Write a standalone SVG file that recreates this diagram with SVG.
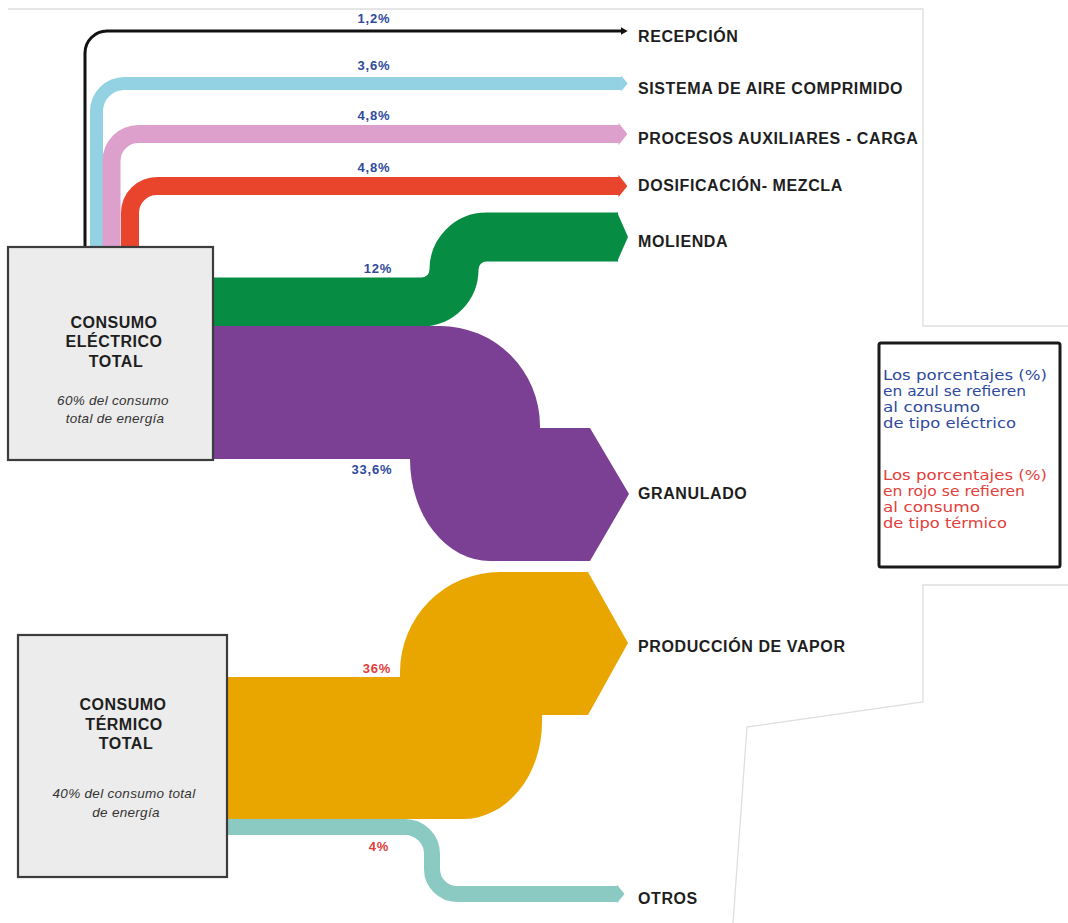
<svg xmlns="http://www.w3.org/2000/svg" width="1068" height="923" viewBox="0 0 1068 923">
<defs>
<style>
.edge{fill:none;stroke:#dedede;stroke-width:1.3}
.box{fill:#ececec;stroke:#3c3c3c;stroke-width:2.2}
.title{font-family:"Liberation Sans",Arial,sans-serif;font-weight:bold;font-size:16px;fill:#1e1e1e;letter-spacing:0.5px;text-anchor:middle}
.sub{font-family:"Liberation Sans",Arial,sans-serif;font-style:italic;font-size:13.5px;fill:#333;letter-spacing:0.3px;text-anchor:middle}
.lbl{font-family:"Liberation Sans",Arial,sans-serif;font-weight:bold;font-size:16px;fill:#1e1e1e;letter-spacing:0.6px}
.pct{font-family:"Liberation Sans",Arial,sans-serif;font-weight:bold;font-size:13px;letter-spacing:0.8px;text-anchor:middle}
.blue{fill:#2f4a9c}
.red{fill:#e2403a}
.band{fill:none;stroke-linecap:butt;stroke-linejoin:round}
.leg{font-family:"DejaVu Sans",sans-serif;font-size:13.7px}
.legbox{fill:#fff;stroke:#1a1a1a;stroke-width:3}
</style>
<marker id="tipK" viewBox="0 -4 7 8" refX="0.3" refY="0" markerWidth="7" markerHeight="8" markerUnits="userSpaceOnUse" orient="auto"><path d="M0,-4 L7,0 L0,4 Z" fill="#111"/></marker>
<marker id="tipB" viewBox="0 -0.62 0.5 1.24" refX="0.03" refY="0" markerWidth="0.5" markerHeight="1.24" markerUnits="strokeWidth" orient="auto"><path d="M0,-0.62 L0.5,0 L0,0.62 Z" fill="#93d2e3"/></marker>
<marker id="tipP" viewBox="0 -0.62 0.5 1.24" refX="0.03" refY="0" markerWidth="0.5" markerHeight="1.24" markerUnits="strokeWidth" orient="auto"><path d="M0,-0.62 L0.5,0 L0,0.62 Z" fill="#dd9fcb"/></marker>
<marker id="tipR" viewBox="0 -0.62 0.5 1.24" refX="0.03" refY="0" markerWidth="0.5" markerHeight="1.24" markerUnits="strokeWidth" orient="auto"><path d="M0,-0.62 L0.5,0 L0,0.62 Z" fill="#e8452c"/></marker>
<marker id="tipT" viewBox="0 -0.62 0.5 1.24" refX="0.03" refY="0" markerWidth="0.5" markerHeight="1.24" markerUnits="strokeWidth" orient="auto"><path d="M0,-0.62 L0.5,0 L0,0.62 Z" fill="#8bcac2"/></marker>
</defs>
<rect width="1068" height="923" fill="#fff"/>
<g id="background">
<path class="edge" d="M8,9 H923 V326 H1068"/>
<path class="edge" d="M1068,585 H923 V702 L747,727 L733,923"/>
</g>
<g id="connectors">
<path class="band" stroke="#111" stroke-width="3" d="M85,248 V53 A22 22 0 0 1 107 31 H621" marker-end="url(#tipK)"/>
<path class="band" stroke="#93d2e3" stroke-width="13" d="M96.5,248 V111.5 A28 28 0 0 1 124.5 83.5 H621.5" marker-end="url(#tipB)"/>
<path class="band" stroke="#dd9fcb" stroke-width="18" d="M111.5,248 V161 A27 27 0 0 1 138.5 134 H619" marker-end="url(#tipP)"/>
<path class="band" stroke="#e8452c" stroke-width="18" d="M130,248 V213 A27 27 0 0 1 157 186 H619" marker-end="url(#tipR)"/>
<path class="band" stroke="#078c44" stroke-width="49" d="M212,302 H421.5 A32.5 32.5 0 0 0 454 269.5 A32.5 32.5 0 0 1 486.5 237 H618"/>
<polygon fill="#078c44" points="617,212 628,237 617,262"/>
<path fill="#7b3f93" d="M212,326 H440 A100 100 0 0 1 540 426 V428 H590 L629 494 L590 561 H490 A80 102 0 0 1 410 459 H212 Z"/>
<path fill="#e9a600" d="M226,677 H400 V672 A100 100 0 0 1 500 572 H588 L628 643 L588 715 H542 V722 A79 97 0 0 1 463 819 H226 Z"/>
<path class="band" stroke="#8bcac2" stroke-width="16" d="M226,827 H405 A27 27 0 0 1 432 854 V869 A25 25 0 0 0 457 894 H617" marker-end="url(#tipT)"/>
<text class="pct blue" x="374" y="23">1,2%</text>
<text class="pct blue" x="374" y="70">3,6%</text>
<text class="pct blue" x="374" y="120">4,8%</text>
<text class="pct blue" x="374" y="172">4,8%</text>
<text class="pct blue" x="378" y="273">12%</text>
<text class="pct blue" x="372" y="474">33,6%</text>
<text class="pct red" x="377" y="673">36%</text>
<text class="pct red" x="379" y="851">4%</text>
</g>
<g id="node-electrico">
<rect class="box" x="8" y="247" width="205" height="213"/>
<text class="title" x="114" y="328">CONSUMO</text>
<text class="title" x="114" y="347">ELÉCTRICO</text>
<text class="title" x="116" y="367">TOTAL</text>
<text class="sub" x="113" y="405">60% del consumo</text>
<text class="sub" x="115" y="423">total de energía</text>
</g>
<g id="node-termico">
<rect class="box" x="18" y="635" width="209" height="242"/>
<text class="title" x="123" y="710">CONSUMO</text>
<text class="title" x="124" y="730">TÉRMICO</text>
<text class="title" x="126" y="749">TOTAL</text>
<text class="sub" x="124" y="798">40% del consumo total</text>
<text class="sub" x="126" y="817">de energía</text>
</g>
<g id="node-recepcion"><text class="lbl" x="638" y="42">RECEPCIÓN</text></g>
<g id="node-aire"><text class="lbl" x="638" y="94">SISTEMA DE AIRE COMPRIMIDO</text></g>
<g id="node-procesos"><text class="lbl" x="638" y="144">PROCESOS AUXILIARES - CARGA</text></g>
<g id="node-dosificacion"><text class="lbl" x="638" y="191">DOSIFICACIÓN- MEZCLA</text></g>
<g id="node-molienda"><text class="lbl" x="638" y="247">MOLIENDA</text></g>
<g id="node-granulado"><text class="lbl" x="638" y="499">GRANULADO</text></g>
<g id="node-vapor"><text class="lbl" x="638" y="652">PRODUCCIÓN DE VAPOR</text></g>
<g id="node-otros"><text class="lbl" x="638" y="904">OTROS</text></g>
<g id="legend">
<rect class="legbox" x="879" y="343" width="181" height="224" rx="2"/>
<text class="leg blue" x="883" y="380" textLength="164" lengthAdjust="spacingAndGlyphs">Los porcentajes (%)</text>
<text class="leg blue" x="883" y="396" textLength="143" lengthAdjust="spacingAndGlyphs">en azul se refieren</text>
<text class="leg blue" x="883" y="412" textLength="97" lengthAdjust="spacingAndGlyphs">al consumo</text>
<text class="leg blue" x="883" y="428" textLength="133" lengthAdjust="spacingAndGlyphs">de tipo eléctrico</text>
<text class="leg red" x="883" y="480" textLength="164" lengthAdjust="spacingAndGlyphs">Los porcentajes (%)</text>
<text class="leg red" x="883" y="496" textLength="142" lengthAdjust="spacingAndGlyphs">en rojo se refieren</text>
<text class="leg red" x="883" y="512" textLength="97" lengthAdjust="spacingAndGlyphs">al consumo</text>
<text class="leg red" x="883" y="528" textLength="124" lengthAdjust="spacingAndGlyphs">de tipo térmico</text>
</g>
</svg>
